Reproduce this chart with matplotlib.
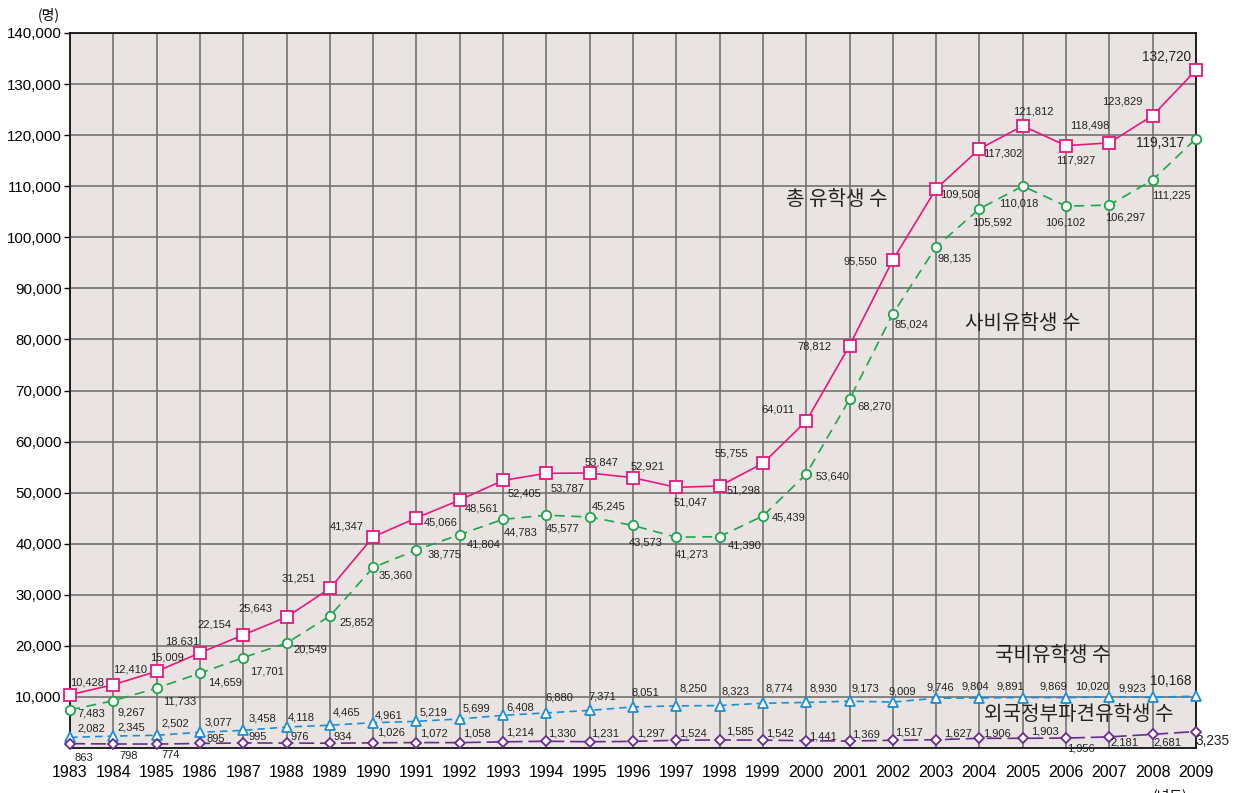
import matplotlib
matplotlib.use('Agg')
from matplotlib import pyplot as plt
from matplotlib.ticker import FuncFormatter

plt.rcParams['font.family'] = ['Liberation Sans', 'Noto Sans CJK KR', 'DejaVu Sans']

years = list(range(1983, 2010))

total = [10428, 12410, 15009, 18631, 22154, 25643, 31251, 41347, 45066, 48561,
         52405, 53787, 53847, 52921, 51047, 51298, 55755, 64011, 78812, 95550,
         109508, 117302, 121812, 117927, 118498, 123829, 132720]
private = [7483, 9267, 11733, 14659, 17701, 20549, 25852, 35360, 38775, 41804,
           44783, 45577, 45245, 43573, 41273, 41390, 45439, 53640, 68270, 85024,
           98135, 105592, 110018, 106102, 106297, 111225, 119317]
national = [2082, 2345, 2502, 3077, 3458, 4118, 4465, 4961, 5219, 5699,
            6408, 6880, 7371, 8051, 8250, 8323, 8774, 8930, 9173, 9009,
            9746, 9804, 9891, 9869, 10020, 9923, 10168]
foreign = [863, 798, 774, 895, 995, 976, 934, 1026, 1072, 1058,
           1214, 1330, 1231, 1297, 1524, 1585, 1542, 1441, 1369, 1517,
           1627, 1906, 1903, 1956, 2181, 2681, 3235]

# label offsets in pixels (dx, dy up)
total_off = [(17, 12), (17, 15), (10, 14), (-18, 11), (-29, 10), (-31, 9), (-31, 10),
             (-27, 10), (24, -5), (22, -8), (21, -13), (21, -15), (12, 11), (15, 11),
             (14, -15), (24, -4), (-32, 10), (-28, 12), (-35, -1), (-33, -1),
             (24, -6), (23, -5), (11, 14), (10, -15), (-20, 17), (-30, 14), (-29, 13)]
private_off = [(21, -4), (18, -12), (23, -13), (25, -9), (24, -14), (24, -6), (27, -7),
               (22, -8), (28, -5), (24, -10), (18, -13), (16, -13), (19, 10), (13, -17),
               (15, -17), (25, -9), (26, -2), (26, -2), (25, -7), (19, -11),
               (18, -12), (13, -14), (-4, -17), (-1, -16), (16, -12), (19, -16), (-36, -4)]
national_off = [(21, 9), (18, 9), (19, 12), (18, 10), (19, 12), (15, 10), (17, 13),
                (15, 7), (17, 9), (17, 10), (17, 8), (13, 15), (13, 14), (12, 14),
                (17, 17), (16, 14), (16, 15), (17, 14), (16, 13), (9, 11),
                (4, 11), (-4, 11), (-12, 11), (-13, 11), (-17, 10), (-20, 9), (-25, 15)]
foreign_off = [(14, -14), (15, -12), (14, -11), (16, 4), (14, 6), (13, 6), (13, 6),
               (18, 10), (17, 9), (17, 9), (17, 9), (16, 8), (15, 8), (18, 8),
               (17, 7), (20, 8), (17, 7), (17, 4), (16, 7), (16, 8),
               (22, 6), (18, 5), (22, 7), (15, -10), (15, -6), (15, -8), (17, -9)]

PINK = '#e8177f'
GREEN = '#1fa54a'
BLUE = '#1b8fd6'
PURPLE = '#6a2b8f'
KR = ['Noto Sans CJK KR', 'DejaVu Sans']


def draw_series(ax, values, offsets, color, marker, ms, ls):
    ax.plot(years, values, color=color, linestyle=ls, linewidth=1.2,
            marker=marker, markersize=ms, markerfacecolor='white',
            markeredgecolor=color, markeredgewidth=1.3, clip_on=False, zorder=4)
    for i, (yr, v) in enumerate(zip(years, values)):
        size = 9.8 if yr == 2009 else 8.0
        ax.annotate('{:,}'.format(v), (yr, v), xytext=offsets[i],
                    textcoords='offset pixels', ha='center', va='center',
                    fontsize=size, color='#222222', zorder=5, annotation_clip=False)


def main():
    fig = plt.figure(figsize=(12.4, 7.93), dpi=100)
    ax = fig.add_axes([0.0565, 0.0567, 0.908, 0.9017])
    ax.set_facecolor('#e9e4e2')

    draw_series(ax, total, total_off, PINK, 's', 8.2, '-')
    draw_series(ax, private, private_off, GREEN, 'o', 6.8, (0, (6, 4)))
    draw_series(ax, national, national_off, BLUE, '^', 7.5, (0, (4.5, 3)))
    draw_series(ax, foreign, foreign_off, PURPLE, 'D', 5.5, (0, (9, 3.5)))

    ax.set_xlim(1983, 2009)
    ax.set_ylim(0, 140000)
    ax.set_xticks(years)
    ax.set_yticks(range(10000, 140001, 10000))
    ax.yaxis.set_major_formatter(FuncFormatter(lambda v, p: '{:,}'.format(int(v))))
    ax.tick_params(axis='y', labelsize=10.8, length=4, width=1, pad=2)
    ax.tick_params(axis='x', labelsize=11.5, length=0, pad=12)
    ax.grid(True, color='#727272', linewidth=1.2, zorder=1)
    ax.set_axisbelow(True)
    for s in ax.spines.values():
        s.set_color('#111111')
        s.set_linewidth(1.3)

    kw = dict(fontsize=14.5, ha='center', va='center', color='#222222', family=KR)
    ax.text(2000.7, 107400, '총 유학생 수', **kw)
    ax.text(2005.0, 83200, '사비유학생 수', **kw)
    ax.text(2005.7, 18200, '국비유학생 수', **kw)
    ax.text(2006.3, 6650, '외국정부파견유학생 수', **kw)

    fig.text(49 / 1240, 1 - 15 / 793, '(명)', fontsize=10, ha='center', va='center',
             family=KR)
    fig.text(1170 / 1240, 1 - 796 / 793, '(년도)', fontsize=10, ha='center', va='center',
             family=KR)

    fig.savefig('out.png', dpi=100)


if __name__ == '__main__':
    main()
